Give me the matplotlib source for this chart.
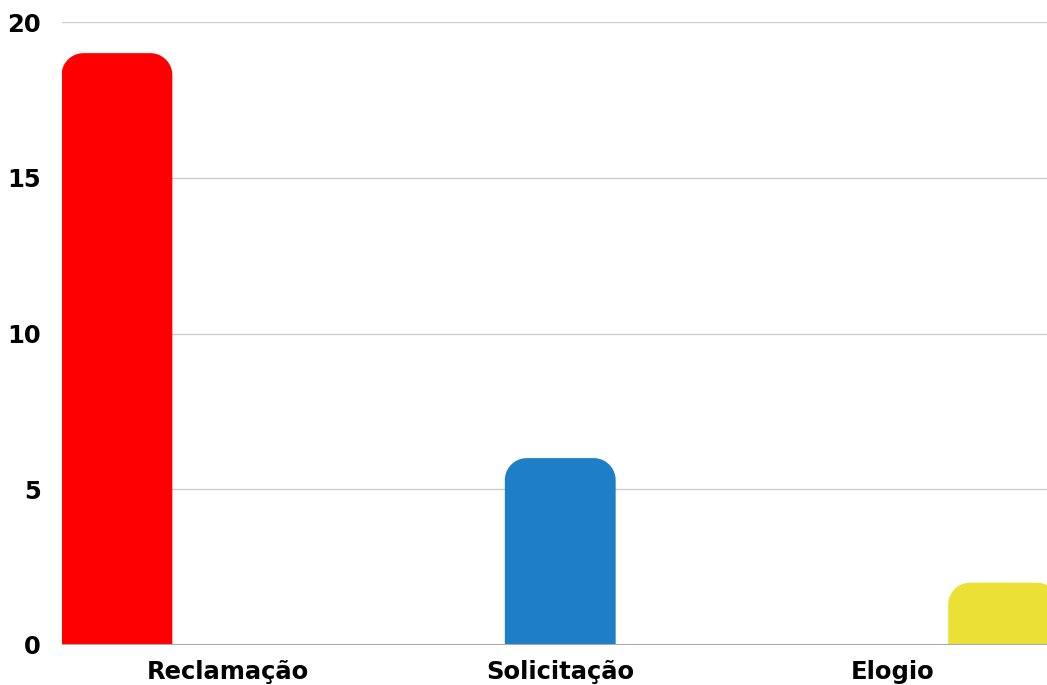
import numpy as np
import matplotlib
matplotlib.use("Agg")
import matplotlib.pyplot as plt
from matplotlib.patches import Polygon

categories = ["Reclamação", "Solicitação", "Elogio"]
reclamacao = [19, 0, 0]
solicitacao = [0, 6, 0]
elogio = [0, 0, 2]
series = [reclamacao, solicitacao, elogio]
colors = ["#FF0000", "#1E7FC7", "#EBE036"]

plt.rcParams["font.family"] = ["DejaVu Sans"]

fig = plt.figure(figsize=(10.47, 6.85), dpi=100)
# axes runs a bit past the right edge, the last bar is cut off like in the original
ax = fig.add_axes([61.5 / 1047, 40 / 685, 997.5 / 1047, 623 / 685])

x = np.arange(len(categories))
width = 1 / 3


def rounded_top(ax, rect, color, r_px=22):
    x0, y0 = rect.get_x(), rect.get_y()
    w, h = rect.get_width(), rect.get_height()
    if h <= 0:
        return
    # corner radius in data units for both directions
    p0 = ax.transData.transform((0, 0))
    p1 = ax.transData.transform((1, 1))
    rx = r_px / (p1[0] - p0[0])
    ry = r_px / (p1[1] - p0[1])
    ry = min(ry, h)
    t = np.linspace(0, np.pi / 2, 20)
    right = np.column_stack([x0 + w - rx + rx * np.cos(t), y0 + h - ry + ry * np.sin(t)])
    left = np.column_stack([x0 + rx - rx * np.sin(t), y0 + h - ry + ry * np.cos(t)])
    pts = np.vstack([[x0 + w, y0], right, left, [x0, y0]])
    ax.add_patch(Polygon(pts, closed=True, facecolor=color, edgecolor="none", zorder=3))


ax.set_xlim(-0.5, 2.5)
ax.set_ylim(0, 20)

for i, (vals, c) in enumerate(zip(series, colors)):
    bars = ax.bar(x + (i - 1) * width, vals, width, color=c, zorder=3)
    for b in bars:
        b.set_visible(False)
        rounded_top(ax, b, c)

ax.set_yticks([0, 5, 10, 15, 20])
ax.set_xticks(x)
ax.set_xticklabels(categories)
ax.grid(axis="y", color="#CCCCCC", linewidth=1, zorder=0)
ax.axhline(0, color="#AAAAAA", linewidth=1.5, zorder=4)
for s in ax.spines.values():
    s.set_visible(False)
ax.tick_params(axis="both", length=0, labelsize=17.5)
ax.tick_params(axis="y", pad=15)
ax.tick_params(axis="x", pad=11)
for lab in ax.get_xticklabels() + ax.get_yticklabels():
    lab.set_fontweight("bold")

fig.savefig("out.png", dpi=100)
